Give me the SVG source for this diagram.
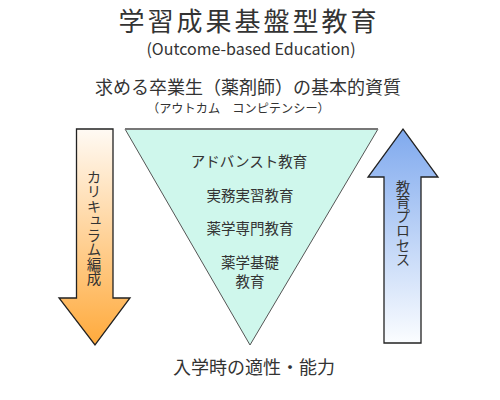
<svg xmlns="http://www.w3.org/2000/svg" width="500" height="400" viewBox="0 0 500 400">
<defs>
<linearGradient id="gOrange" x1="0" y1="0" x2="0" y2="1">
<stop offset="0" stop-color="#fffaf4"/>
<stop offset="1" stop-color="#ffaa3c"/>
</linearGradient>
<linearGradient id="gBlue" x1="0" y1="1" x2="0" y2="0">
<stop offset="0" stop-color="#fbfdff"/>
<stop offset="1" stop-color="#7fa9ee"/>
</linearGradient>
<style>
text{font-family:"Noto Sans CJK JP","Noto Sans",sans-serif;fill:#333;}
.c{text-anchor:middle;}
.tri{font-size:14.5px;}
.vert{font-size:14.5px;writing-mode:vertical-rl;text-orientation:upright;}
.arrow{stroke:#222;stroke-width:1.3;stroke-linejoin:miter;}
</style>
</defs>
<rect width="500" height="400" fill="#fff"/>
<g id="title">
<text class="c" x="249" y="31" font-size="26" letter-spacing="3" fill="#222">学習成果基盤型教育</text>
<text x="251" y="55" class="c" font-size="16" font-family="Noto Sans, sans-serif">(Outcome-based Education)</text>
</g>
<g id="outcome">
<text class="c" x="248" y="94" font-size="18">求める卒業生（薬剤師）の基本的資質</text>
<text x="147" y="113" font-size="12.2">（アウトカム　コンピテンシー）</text>
</g>
<g id="pyramid">
<polygon points="125,129 378,129 250,345" fill="#cff7ec" stroke="#555" stroke-width="1"/>
<line x1="125" y1="129" x2="378" y2="129" stroke="#777" stroke-width="2"/>
<text class="c tri" x="249" y="167">アドバンスト教育</text>
<text class="c tri" x="250" y="201">実務実習教育</text>
<text class="c tri" x="250" y="234">薬学専門教育</text>
<text class="c tri" x="250" y="268">薬学基礎</text>
<text class="c tri" x="250" y="287">教育</text>
</g>
<g id="curriculum">
<polygon class="arrow" points="76.5,129 113,129 113,298 130,298 95,345 59,298 76.5,298" fill="url(#gOrange)"/>
<text class="vert" x="94" y="170">カリキュラム編成</text>
</g>
<g id="process">
<polygon class="arrow" points="384,343 421,343 421,177 438,177 403,129 368,177 384,177" fill="url(#gBlue)"/>
<text class="vert" x="403" y="180">教育プロセス</text>
</g>
<g id="entry">
<text class="c" x="254" y="374" font-size="18">入学時の適性・能力</text>
</g>
<g id="connectors"></g>
</svg>
